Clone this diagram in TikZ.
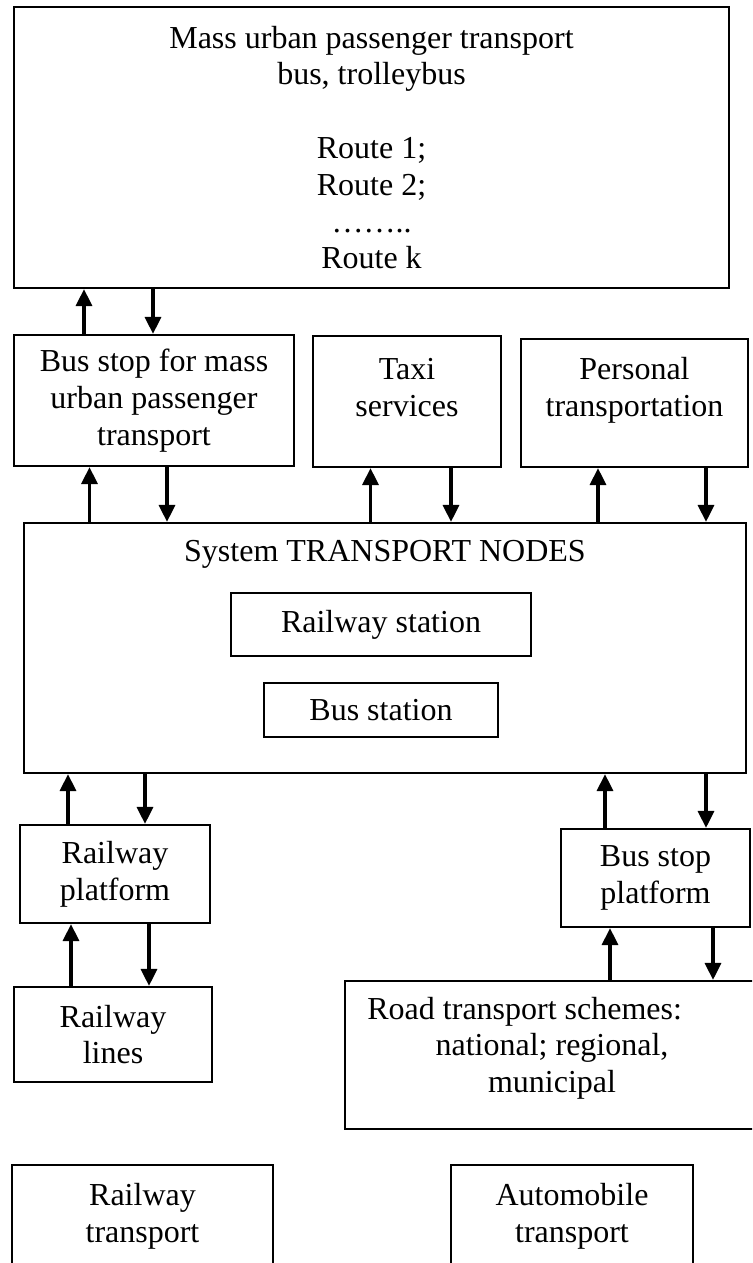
\documentclass[tikz,border=0pt]{standalone}
\usepackage{fontspec}
\setmainfont{Liberation Serif}
\usetikzlibrary{arrows.meta}

\begin{document}
\begin{tikzpicture}[x=0.5pt,y=-0.5pt,
	box/.style={draw,line width=1.1pt,inner sep=0pt,align=center,font=\fontsize{16}{18.4}\selectfont},
	txt/.style={inner sep=0pt,align=center,font=\fontsize{16}{18.4}\selectfont},
	arr/.style={line width=1.6pt,-{Triangle[length=8.5pt,width=8pt]}}]
	\useasboundingbox (0,0) rectangle (752,1263);
	\clip (0,0) rectangle (752,1263);

	\node[box,minimum width=357.5pt,minimum height=140.5pt] (mass) at (371.5,147.5)
		{Mass urban passenger transport\\bus, trolleybus\\[18.4pt]Route 1;\\Route 2;\\……..\\Route k};

	\node[box,minimum width=140pt,minimum height=65.5pt] (bstop) at (154,400.5) {Bus stop for mass\\urban passenger\\transport};
	\node[box,minimum width=94pt,minimum height=65.5pt] (taxi) at (407,401.5) {};
	\node[txt] (taxi-t) at (407,387.5) {Taxi\\services};
	\node[box,minimum width=113.5pt,minimum height=64pt] (pers) at (634.5,403) {};
	\node[txt] (pers-t) at (634.5,390) {Personal\\transportation};

	% transport nodes
	\node[box,minimum width=361pt,minimum height=125pt] (sys) at (385,648) {};
	\node[txt] (sys-t) at (385,554) {System TRANSPORT NODES};
	\node[box,minimum width=150pt,minimum height=31.5pt] (rstat) at (381,624.5) {Railway station};
	\node[box,minimum width=117pt,minimum height=27pt] (bstat) at (381,710) {Bus station};

	\node[box,minimum width=95pt,minimum height=49pt] (rplat) at (115,874) {Railway\\platform};
	\node[box,minimum width=94.5pt,minimum height=49pt] (bplat) at (655.5,878) {Bus stop\\platform};
	\node[box,minimum width=99pt,minimum height=47.5pt] (rlines) at (113,1034.5) {Railway\\lines};
	\node[box,minimum width=207.5pt,minimum height=74pt] (road) at (552.5,1055) {};
	\node[txt,anchor=west] (road-t) at (367,1012) {Road transport schemes:};
	\node[txt] (road-s) at (552,1066.5) {national; regional,\\municipal};

	% bottom row, cut by the page edge
	\node[box,minimum width=130.5pt,minimum height=51pt] (rtrans) at (142.5,1216) {Railway\\transport};
	\node[box,minimum width=121pt,minimum height=51pt] (atrans) at (572,1216) {Automobile\\transport};

	\foreach \lo/\hi/\xu/\xd in {bstop/mass/84/153, sys/bstop/89.5/167, sys/taxi/370.5/451,
		sys/pers/598/706, rplat/sys/68/145, rlines/rplat/71/149, bplat/sys/605/706, road/bplat/610/713}{
		\draw[arr] (\lo.north -| \xu,0) -- (\hi.south -| \xu,0);
		\draw[arr] (\hi.south -| \xd,0) -- (\lo.north -| \xd,0);
	}
\end{tikzpicture}
\end{document}
